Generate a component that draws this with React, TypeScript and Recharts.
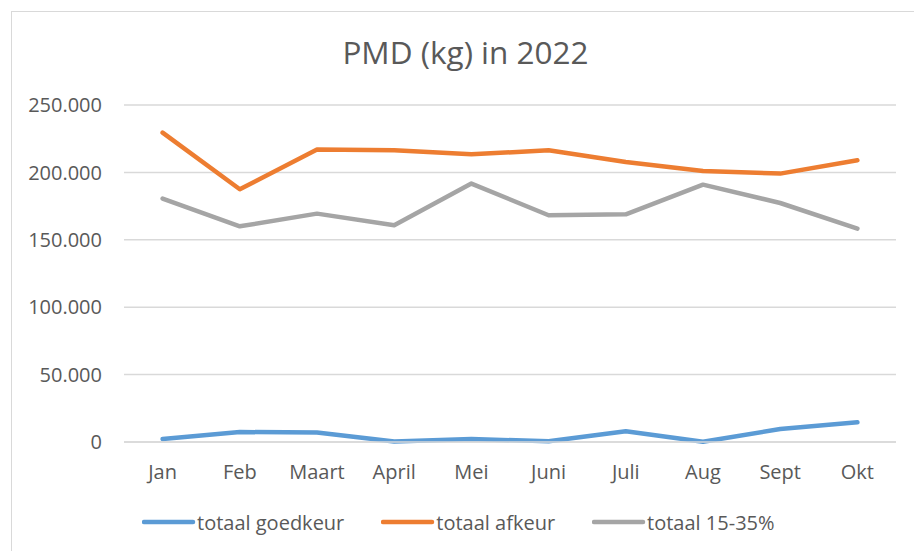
import { CartesianGrid, Legend, Line, LineChart, XAxis, YAxis } from "recharts";

const months = ["Jan", "Feb", "Maart", "April", "Mei", "Juni", "Juli", "Aug", "Sept", "Okt"];
const goedkeur = [2200, 7400, 7000, 300, 2200, 500, 7900, 200, 9600, 14600];
const afkeur = [229500, 187500, 216900, 216400, 213400, 216400, 207700, 201000, 199100, 209000];
const range1535 = [180600, 160000, 169400, 160800, 191700, 168200, 168900, 190900, 177300, 158300];
const yTicks = [0, 50000, 100000, 150000, 200000, 250000];

const data = months.map((m, i) => ({
  month: m,
  goedkeur: goedkeur[i],
  afkeur: afkeur[i],
  range: range1535[i],
}));

const FONT = "'Open Sans', sans-serif";
const TEXT = "#595959";

const series = [
  { key: "goedkeur", name: "totaal goedkeur", color: "#5B9BD5" },
  { key: "afkeur", name: "totaal afkeur", color: "#ED7D31" },
  { key: "range", name: "totaal 15-35%", color: "#A5A5A5" },
];

const fmt = (v: number) => String(v).replace(/\B(?=(\d{3})+(?!\d))/g, ".");

function LegendContent() {
  return (
    <div style={{ display: "flex", alignItems: "center", height: 30, gap: 37, fontFamily: FONT, fontSize: 20, color: TEXT }}>
      {series.map((s) => (
        <div key={s.key} style={{ display: "flex", alignItems: "center" }}>
          <svg width={55} height={10}>
            <line x1={2} y1={5} x2={51} y2={5} stroke={s.color} strokeWidth={4.5} strokeLinecap="round" />
          </svg>
          <span style={{ whiteSpace: "nowrap" }}>{s.name}</span>
        </div>
      ))}
    </div>
  );
}

export default function App() {
  return (
    <div style={{ position: "fixed", left: 0, top: 0, width: 914, height: 551, overflow: "hidden", background: "#fff" }}>
      <div style={{ position: "absolute", left: 11, top: 11, width: 1000, height: 1000, border: "1px solid #D9D9D9" }} />
      <div
        style={{
          position: "absolute",
          left: 0,
          width: 931,
          top: 32,
          textAlign: "center",
          fontFamily: FONT,
          fontSize: 31.5,
          color: TEXT,
          lineHeight: "40px",
        }}
      >
        PMD (kg) in 2022
      </div>
      <div style={{ position: "absolute", left: 0, top: 0 }}>
        <LineChart width={914} height={551} data={data} margin={{ top: 105, right: 18, left: 24, bottom: 39 }}>
          <CartesianGrid vertical={false} stroke="#D9D9D9" strokeWidth={1.5} />
          <XAxis
            dataKey="month"
            axisLine={{ stroke: "#D9D9D9", strokeWidth: 1.5 }}
            tickLine={false}
            tickSize={0}
            tickMargin={23}
            height={40}
            padding={{ left: 38.6, right: 38.6 }}
            tick={{ fill: TEXT, fontSize: 20, fontFamily: FONT }}
            interval={0}
          />
          <YAxis
            width={100}
            domain={[0, 250000]}
            ticks={yTicks}
            tickFormatter={fmt}
            axisLine={false}
            tickLine={false}
            tickSize={0}
            tickMargin={22}
            tick={{ fill: TEXT, fontSize: 20, fontFamily: FONT }}
          />
          <Legend
            verticalAlign="bottom"
            content={() => <LegendContent />}
            wrapperStyle={{ left: 142, top: 507, width: "auto" }}
          />
          {series.map((s) => (
            <Line
              key={s.key}
              dataKey={s.key}
              name={s.name}
              type="linear"
              stroke={s.color}
              strokeWidth={4.5}
              strokeLinecap="round"
              strokeLinejoin="round"
              dot={false}
              activeDot={false}
              isAnimationActive={false}
            />
          ))}
        </LineChart>
      </div>
    </div>
  );
}
